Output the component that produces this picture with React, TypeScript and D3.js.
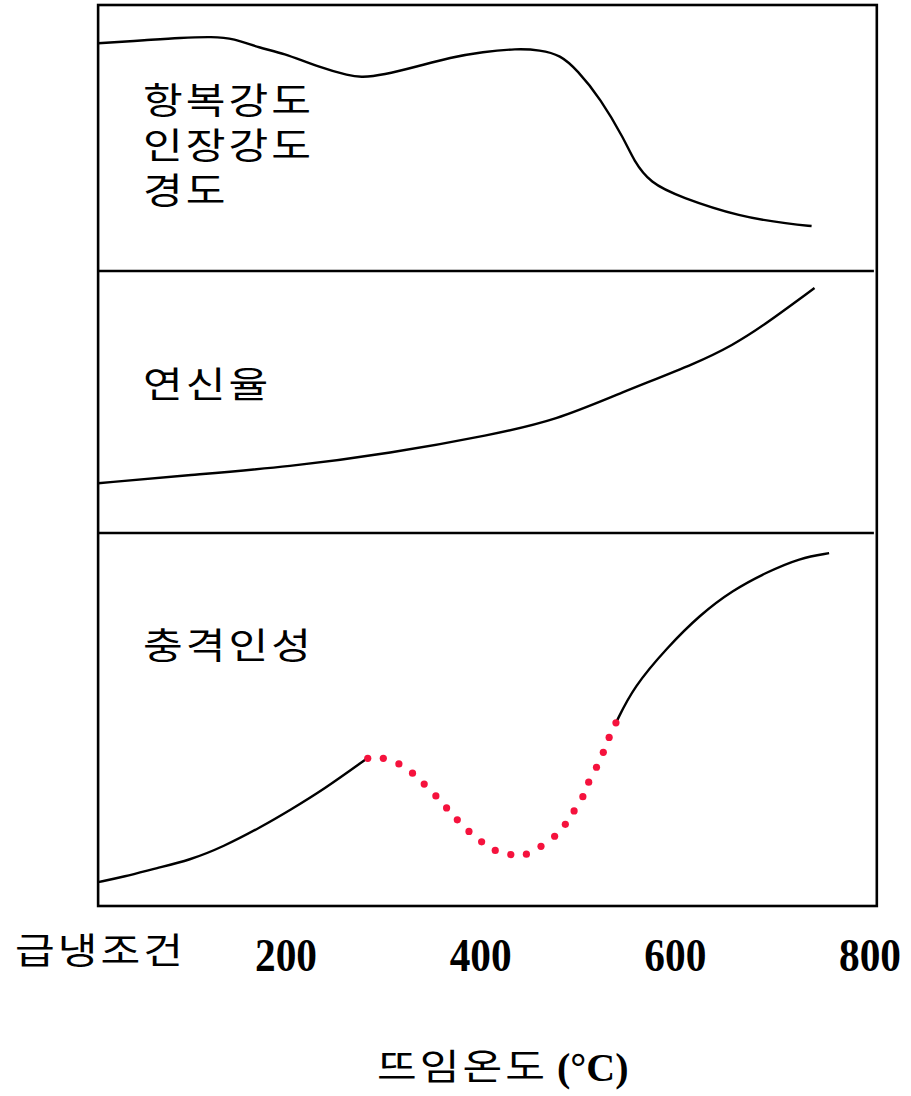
import React from "react";
import * as d3 from "d3";

// Temperature (°C) vs relative property level (0–100 within each panel)
const strengthTemp = [7, 57, 91, 125, 146, 173, 197, 232, 266, 277, 300, 334, 369, 402, 437, 461, 482, 499, 523, 548, 557, 574, 605, 667, 718, 740];
const strengthVal = [85.6, 86.8, 87.7, 88.1, 87.5, 83.8, 82.0, 76.8, 73.3, 72.8, 73.7, 76.8, 80.3, 82.4, 83.6, 83.1, 81.2, 75.6, 64.9, 49.2, 41.7, 33.1, 27.8, 20.3, 17.7, 16.9];

const elongTemp = [7, 101, 204, 307, 410, 478, 543, 625, 659, 687, 743];
const elongVal = [19.0, 22.1, 25.3, 30.4, 37.4, 43.1, 53.4, 65.3, 71.8, 78.2, 93.5];

const toughATemp = [7, 33, 68, 101, 135, 176, 204, 238, 284];
const toughAVal = [6.4, 7.8, 10.2, 12.3, 15.8, 21.4, 25.7, 31.1, 39.7];

const toughDotTemp = [284, 300, 316, 330, 342, 354, 365, 376, 388, 401, 415, 431, 447, 462, 476, 487, 496, 505, 511, 519, 526, 532, 539];
const toughDotVal = [39.6, 39.6, 38.1, 35.6, 32.7, 29.5, 26.3, 23.1, 20.0, 17.2, 14.9, 13.8, 13.9, 16.0, 18.7, 21.9, 25.5, 29.3, 33.2, 37.2, 41.2, 45.2, 49.1];

const toughBTemp = [539, 557, 592, 625, 659, 694, 728, 758];
const toughBVal = [49.1, 58.7, 69.4, 78.0, 84.7, 89.5, 93.3, 94.6];

const tickValues = [200, 400, 600, 800];
const panelLabels = [["항복강도", "인장강도", "경도"], ["연신율"], ["충격인성"]];
const quenchLabel = "급냉조건";
const xTitleKo = "뜨임온도";
const xTitleUnit = "(°C)";

const W = 911;
const H = 1096;
const panelTops = [5, 271, 533];
const panelBottoms = [271, 533, 906];

export default function App() {
  const x = d3.scaleLinear().domain([0, 800]).range([91.3, 870]);
  const ys = panelTops.map((t, i) => d3.scaleLinear().domain([0, 100]).range([panelBottoms[i], t]));

  const mk = (ts: number[], vs: number[]) => ts.map((t, i) => [t, vs[i]] as [number, number]);
  const lineFor = (y: d3.ScaleLinear<number, number>) =>
    d3.line<[number, number]>().x((d) => x(d[0])).y((d) => y(d[1])).curve(d3.curveBasis);

  const left = x(7);
  const right = x(807);
  const divEnd = x(804);
  const font = "'Noto Sans CJK KR', 'Noto Sans', sans-serif";
  const serif = "'Liberation Serif', 'Times New Roman', serif";
  const kFs = 36;
  const kLs = 2.5;
  const kSx = 1.2;

  const labelBaselines = [114, 398, 659];
  const lineGap = 45;

  const KText = ({ tx, ty, lines }: { tx: number; ty: number; lines: string[] }) => (
    <text transform={`translate(${tx},${ty}) scale(${kSx},1)`} fontFamily={font} fontSize={kFs} letterSpacing={kLs} fill="#000">
      {lines.map((s, j) => (
        <tspan key={j} x={0} y={j * lineGap}>
          {s}
        </tspan>
      ))}
    </text>
  );

  return (
    <svg width={W} height={H} style={{ position: "absolute", left: 0, top: 0, background: "#fff" }}>
      <rect x={0} y={0} width={W} height={H} fill="#fff" />
      {/* frame */}
      <rect x={left} y={panelTops[0]} width={right - left} height={panelBottoms[2] - panelTops[0]} fill="none" stroke="#000" strokeWidth={2.6} />
      {[panelTops[1], panelTops[2]].map((yy, i) => (
        <line key={i} x1={left} x2={divEnd} y1={yy} y2={yy} stroke="#000" strokeWidth={2.6} />
      ))}

      {/* curves */}
      <path d={lineFor(ys[0])(mk(strengthTemp, strengthVal)) || ""} fill="none" stroke="#000" strokeWidth={2.4} />
      <path d={lineFor(ys[1])(mk(elongTemp, elongVal)) || ""} fill="none" stroke="#000" strokeWidth={2.4} />
      <path d={lineFor(ys[2])(mk(toughATemp, toughAVal)) || ""} fill="none" stroke="#000" strokeWidth={2.4} />
      <path d={lineFor(ys[2])(mk(toughBTemp, toughBVal)) || ""} fill="none" stroke="#000" strokeWidth={2.4} />
      {toughDotTemp.map((t, i) => (
        <circle key={i} cx={x(t)} cy={ys[2](toughDotVal[i])} r={3.6} fill="#f5123d" />
      ))}

      {/* panel labels */}
      {panelLabels.map((lines, p) => (
        <KText key={p} tx={143} ty={labelBaselines[p]} lines={lines} />
      ))}

      {/* x tick labels */}
      {tickValues.map((v) => (
        <text
          key={v}
          x={x(v)}
          y={971}
          textAnchor="middle"
          fontFamily={serif}
          fontWeight="bold"
          fontSize={46}
          textLength={62}
          lengthAdjust="spacingAndGlyphs"
          fill="#000"
        >
          {v}
        </text>
      ))}
      <KText tx={15} ty={964} lines={[quenchLabel]} />

      {/* x title */}
      <KText tx={377} ty={1080} lines={[xTitleKo]} />
      <text x={557} y={1081} fontFamily={serif} fontWeight="bold" fontSize={40} fill="#000">
        {xTitleUnit}
      </text>
    </svg>
  );
}
